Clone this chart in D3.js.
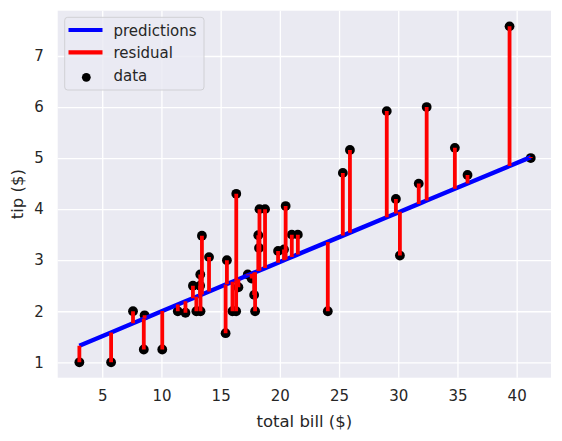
<!DOCTYPE html>
<html><head><meta charset="utf-8">
<script src="https://cdn.jsdelivr.net/npm/d3@7"></script>
<style>body{margin:0;background:#fff} svg{display:block}</style>
</head><body>
<svg id="c" width="562" height="441"></svg>
<script>
const totalBill = [3.07, 5.75, 7.60, 8.58, 8.51, 10.07, 11.38, 12.03, 12.66, 12.95, 13.30, 13.28, 13.27, 13.42, 14.02,
  15.53, 15.42, 16.00, 16.31, 16.32, 16.50, 17.29, 17.62, 17.83, 17.91, 18.18, 18.24, 18.28, 18.75, 19.85,
  20.35, 20.49, 21.01, 21.52, 24.05, 25.32, 25.92, 29.03, 29.80, 30.14, 31.73, 32.40, 34.78, 35.85, 39.40, 41.19];
const tipAmount = [1.00, 1.00, 2.00, 1.92, 1.25, 1.25, 2.00, 1.97, 2.50, 2.00, 2.00, 2.72, 2.50, 3.48, 3.06,
  3.00, 1.57, 2.00, 2.00, 4.30, 2.47, 2.72, 2.64, 2.32, 2.00, 3.49, 3.24, 4.00, 4.00, 3.18,
  3.21, 4.06, 3.50, 3.50, 2.00, 4.71, 5.16, 5.92, 4.20, 3.09, 4.50, 6.00, 5.20, 4.67, 7.58, 5.00];
const xTicks = [5, 10, 15, 20, 25, 30, 35, 40];
const yTicks = [1, 2, 3, 4, 5, 6, 7];
const legendLabels = ["predictions", "residual", "data"];
// fitted linear model
const modelIntercept = 1.028;
const modelSlope = 0.0969;

const n = totalBill.length;
const predictions = totalBill.map(v => modelIntercept + modelSlope * v);

const svg = d3.select("#c");
const L = 57.7, R = 551, T = 10.7, B = 377.7;
const x = d3.scaleLinear().domain([1.24, 42.9]).range([L, R]);
const y = d3.scaleLinear().domain([0.698, 7.887]).range([B, T]);
const font = "DejaVu Sans, sans-serif";
const txt = "#262626";

svg.append("rect").attr("x", L).attr("y", T).attr("width", R-L).attr("height", B-T).attr("fill", "#eaeaf2");

const xAxis = svg.append("g").attr("transform", `translate(0,${B})`)
  .call(d3.axisBottom(x).tickValues(xTicks).tickSize(-(B-T)).tickPadding(13).tickFormat(d3.format("d")));
const yAxis = svg.append("g").attr("transform", `translate(${L},0)`)
  .call(d3.axisLeft(y).tickValues(yTicks).tickSize(-(R-L)).tickPadding(14).tickFormat(d3.format("d")));
[xAxis, yAxis].forEach(a => {
  a.select(".domain").remove();
  a.selectAll(".tick line").attr("stroke", "#ffffff").attr("stroke-width", 1.3);
  a.selectAll(".tick text").attr("fill", txt).style("font-family", font).style("font-size", "15px");
});

svg.append("defs").append("clipPath").attr("id", "clip")
  .append("rect").attr("x", L).attr("y", T).attr("width", R-L).attr("height", B-T);
const plot = svg.append("g").attr("clip-path", "url(#clip)");

// data points
plot.selectAll("circle.pt").data(totalBill).join("circle").attr("class", "pt")
  .attr("cx", d => x(d)).attr("cy", (d, i) => y(tipAmount[i])).attr("r", 4.9).attr("fill", "#000");

// predictions line
const order = d3.range(n).sort((a, b) => totalBill[a] - totalBill[b]);
plot.append("path").datum(order)
  .attr("d", d3.line().x(i => x(totalBill[i])).y(i => y(predictions[i])))
  .attr("fill", "none").attr("stroke", "#0000ff").attr("stroke-width", 4.4);

// residuals
plot.selectAll("line.res").data(d3.range(n)).join("line").attr("class", "res")
  .attr("x1", i => x(totalBill[i])).attr("x2", i => x(totalBill[i]))
  .attr("y1", i => y(tipAmount[i])).attr("y2", i => y(predictions[i]))
  .attr("stroke", "#ff0000").attr("stroke-width", 3.8);

// axis labels
svg.append("text").attr("x", (L+R)/2).attr("y", 427).attr("text-anchor", "middle")
  .attr("fill", txt).style("font-family", font).style("font-size", "16.5px").text("total bill ($)");
svg.append("text").attr("transform", `translate(23,${(T+B)/2}) rotate(-90)`).attr("text-anchor", "middle")
  .attr("fill", txt).style("font-family", font).style("font-size", "16.5px").text("tip ($)");

// legend
const lg = svg.append("g");
lg.append("rect").attr("x", 64.7).attr("y", 17.3).attr("width", 139.3).attr("height", 72.7).attr("rx", 3)
  .attr("fill", "#eaeaf2").attr("fill-opacity", 0.8).attr("stroke", "#d0d0d4").attr("stroke-width", 1);
const rowsY = [30, 52.3, 75.5];
lg.append("line").attr("x1", 68.5).attr("x2", 102.5).attr("y1", rowsY[0]).attr("y2", rowsY[0])
  .attr("stroke", "#0000ff").attr("stroke-width", 4.2);
lg.append("line").attr("x1", 68.5).attr("x2", 102.5).attr("y1", rowsY[1]).attr("y2", rowsY[1])
  .attr("stroke", "#ff0000").attr("stroke-width", 4.2);
lg.append("circle").attr("cx", 86.3).attr("cy", 77.3).attr("r", 4.4).attr("fill", "#000");
lg.selectAll("text").data(legendLabels).join("text")
  .attr("x", 113.5).attr("y", (d, i) => rowsY[i] + 5.5)
  .attr("fill", txt).style("font-family", font).style("font-size", "15px").text(d => d);
</script>
</body></html>
